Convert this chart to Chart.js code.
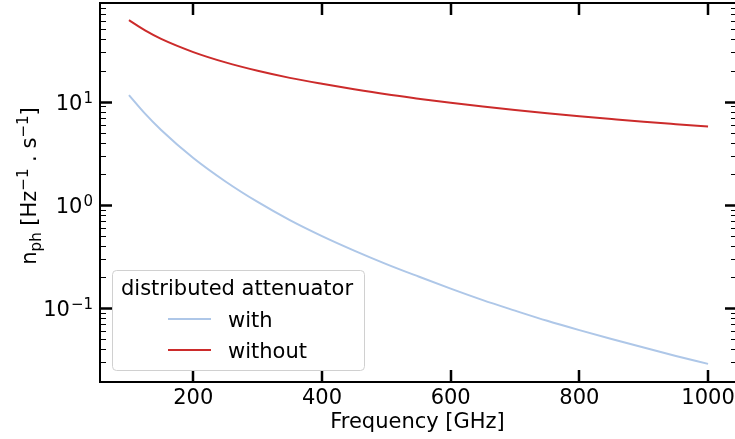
<!DOCTYPE html>
<html>
<head>
<meta charset="utf-8">
<script src="https://cdn.jsdelivr.net/npm/chart.js@4.4.1/dist/chart.umd.min.js"></script>
<style>
  html, body { margin: 0; padding: 0; background: #fff; overflow: hidden; }
</style>
</head>
<body>
<canvas id="nphChart" width="740" height="439"></canvas>
<script>
// values
const freqs = [100, 125, 150, 200, 250, 300, 350, 400, 450, 500, 550,
               600, 650, 700, 750, 800, 850, 900, 950, 1000];
const withAtt = [11.6, 7.67, 5.33, 2.85, 1.69, 1.07, 0.714, 0.50, 0.362, 0.268, 0.203,
                 0.155, 0.12, 0.095, 0.0757, 0.0615, 0.0505, 0.0417, 0.0346, 0.029];
const withoutAtt = [61.5, 48.9, 40.5, 30.2, 24.0, 19.9, 17.0, 14.9, 13.2, 11.8, 10.7,
                    9.75, 8.98, 8.32, 7.74, 7.24, 6.8, 6.4, 6.06, 5.75];
const seriesLabels = ['with', 'without'];
const legendTitle = 'distributed attenuator';
const xTicks = [200, 400, 600, 800, 1000];
const yMajor = [0.1, 1, 10];
const yExponents = ['\u22121', '0', '1'];

const FONT = "'DejaVu Sans', sans-serif";

function pts(ys) {
    return freqs.map((f, i) => ({ x: f, y: ys[i] }));
}

// draws spines, inward ticks, labels and legend in matplotlib style
const mplAxes = {
    id: 'mplAxes',
    afterDraw(chart) {
        const ctx = chart.ctx;
        const a = chart.chartArea;
        const xs = chart.scales.x;
        const ys = chart.scales.y;
        ctx.save();
        ctx.strokeStyle = '#000';
        ctx.fillStyle = '#000';

        // spines
        ctx.lineWidth = 2;
        ctx.strokeRect(a.left, a.top, a.right - a.left, a.bottom - a.top);

        // y ticks (major + minor), both sides, pointing in
        for (let d = -2; d <= 1; d++) {
            for (let m = 1; m <= 9; m++) {
                const v = m * Math.pow(10, d);
                if (v < ys.min || v > ys.max) continue;
                const py = Math.round(ys.getPixelForValue(v)) + 0.5;
                const major = m === 1;
                const len = major ? 12 : 6;
                ctx.lineWidth = major ? 2.5 : 1;
                ctx.beginPath();
                ctx.moveTo(a.left, py); ctx.lineTo(a.left + len, py);
                ctx.moveTo(a.right, py); ctx.lineTo(a.right - len, py);
                ctx.stroke();
            }
        }

        // x ticks, bottom and top
        ctx.lineWidth = 2.5;
        xTicks.forEach(t => {
            const px = Math.round(xs.getPixelForValue(t));
            ctx.beginPath();
            ctx.moveTo(px, a.bottom); ctx.lineTo(px, a.bottom - 12);
            ctx.moveTo(px, a.top); ctx.lineTo(px, a.top + 12);
            ctx.stroke();
        });

        // x tick labels
        ctx.font = '21px ' + FONT;
        ctx.textAlign = 'center';
        ctx.textBaseline = 'alphabetic';
        xTicks.forEach(t => {
            ctx.fillText(String(t), xs.getPixelForValue(t), a.bottom + 22);
        });

        // y tick labels: 10^n
        yMajor.forEach((v, i) => {
            const py = ys.getPixelForValue(v);
            ctx.font = '15px ' + FONT;
            ctx.textAlign = 'right';
            const right = a.left - 7;
            const ew = ctx.measureText(yExponents[i]).width;
            ctx.fillText(yExponents[i], right, py + 1);
            ctx.font = '21px ' + FONT;
            ctx.fillText('10', right - ew - 1, py + 8);
        });

        // x axis title
        ctx.font = '21px ' + FONT;
        ctx.textAlign = 'center';
        ctx.fillText('Frequency [GHz]', (a.left + 735) / 2, 428);

        // y axis title with sub/superscripts
        const parts = [
            ['n', 21, 0], ['ph', 15, 5], [' [Hz', 21, 0], ['\u22121', 15, -8],
            [' . s', 21, 0], ['\u22121', 15, -8], [']', 21, 0]
        ];
        let total = 0;
        parts.forEach(p => { ctx.font = p[1] + 'px ' + FONT; total += ctx.measureText(p[0]).width; });
        ctx.save();
        ctx.translate(36, 186);
        ctx.rotate(-Math.PI / 2);
        ctx.textAlign = 'left';
        let cx = -total / 2;
        parts.forEach(p => {
            ctx.font = p[1] + 'px ' + FONT;
            ctx.fillText(p[0], cx, p[2]);
            cx += ctx.measureText(p[0]).width;
        });
        ctx.restore();

        // legend
        const lx = 112, ly = 270, lw = 252, lh = 100;
        ctx.beginPath();
        ctx.roundRect(lx + 0.5, ly + 0.5, lw, lh, 4);
        ctx.fillStyle = 'rgba(255,255,255,0.85)';
        ctx.fill();
        ctx.strokeStyle = '#d0d0d0';
        ctx.lineWidth = 1;
        ctx.stroke();
        ctx.fillStyle = '#000';
        ctx.font = '21px ' + FONT;
        ctx.textAlign = 'left';
        ctx.fillText(legendTitle, lx + 9, ly + 25);
        chart.data.datasets.forEach((ds, i) => {
            const yy = ly + 49 + i * 31;
            ctx.strokeStyle = ds.borderColor;
            ctx.lineWidth = 2;
            ctx.beginPath();
            ctx.moveTo(lx + 56, yy); ctx.lineTo(lx + 99, yy);
            ctx.stroke();
            ctx.fillText(ds.label, lx + 116, yy + 8);
        });
        ctx.restore();
    }
};

new Chart(document.getElementById('nphChart'), {
    type: 'line',
    data: {
        datasets: [
            { label: seriesLabels[0], data: pts(withAtt), borderColor: '#aec7e8' },
            { label: seriesLabels[1], data: pts(withoutAtt), borderColor: '#cc2b2b' }
        ]
    },
    options: {
        responsive: false,
        animation: false,
        devicePixelRatio: 1,
        layout: { padding: { left: 100, top: 3, right: 3, bottom: 57 } },
        elements: {
            line: { borderWidth: 2, cubicInterpolationMode: 'monotone', fill: false },
            point: { radius: 0 }
        },
        plugins: { legend: { display: false }, tooltip: { enabled: false } },
        scales: {
            x: { type: 'linear', min: 55, max: 1045, display: false },
            y: { type: 'logarithmic', min: 0.01936, max: 90.2, display: false }
        }
    },
    plugins: [mplAxes]
});
</script>
</body>
</html>
